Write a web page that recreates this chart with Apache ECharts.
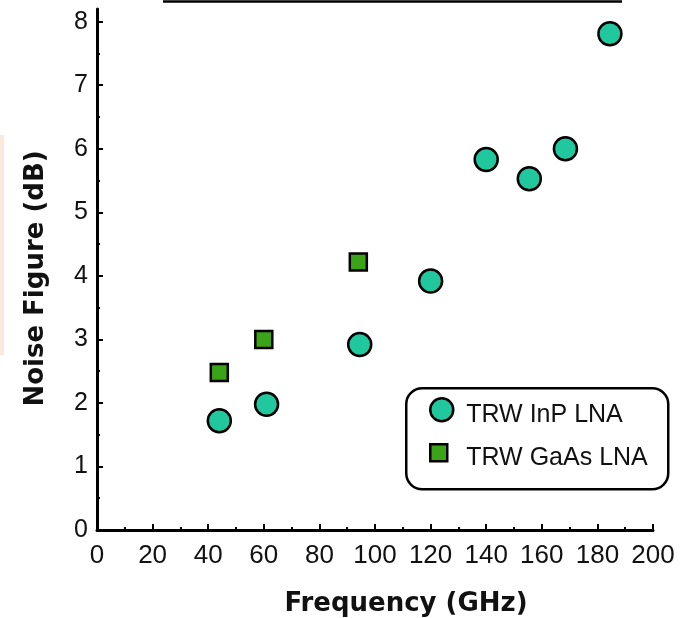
<!DOCTYPE html>
<html>
<head>
<meta charset="utf-8">
<title>Noise Figure vs Frequency</title>
<script src="https://cdn.jsdelivr.net/npm/echarts@6/dist/echarts.min.js"></script>
<style>
  html, body { margin: 0; padding: 0; background: #ffffff; }
  #chart { width: 690px; height: 618px; }
</style>
</head>
<body>
<div id="chart"></div>
<script>
// Measured noise figure of LNAs by frequency
const inpFreq = [44, 61, 94.5, 120, 140, 155.5, 168.5, 184.5];
const inpNF   = [1.72, 1.98, 2.92, 3.92, 5.83, 5.53, 6.0, 7.81];
const gaasFreq = [44, 60, 94];
const gaasNF   = [2.48, 3.0, 4.22];

const seriesNames = ['TRW InP LNA', 'TRW GaAs LNA'];
const xTickValues = [0, 20, 40, 60, 80, 100, 120, 140, 160, 180, 200];
const yTickValues = [0, 1, 2, 3, 4, 5, 6, 7, 8];
const yMinorValues = [0.5, 1.5, 2.5, 3.5, 4.5, 5.5, 6.5, 7.5];

const FONT = "'Liberation Sans', Arial, Helvetica, sans-serif";
const NAME_FONT = "'DejaVu Sans', 'Liberation Sans', Arial, sans-serif";

const chart = echarts.init(document.getElementById('chart'), null, { renderer: 'canvas' });

const pair = (xs, ys) => xs.map((x, i) => [x, ys[i]]);

// legend label sits a little below the centre of its marker
const legendText = (left) => ({
  fontFamily: FONT, fontSize: 25, color: '#111',
  rich: { t: { fontFamily: FONT, fontSize: 25, color: '#111', padding: [10, 0, 0, left] } }
});

const option = {
  backgroundColor: '#ffffff',
  animation: false,
  grid: { left: 97, right: 37, top: 9, bottom: 88, containLabel: false, outerBoundsMode: 'none' },
  xAxis: {
    type: 'value',
    min: 0, max: 200, interval: 20,
    name: 'Frequency (GHz)',
    nameLocation: 'middle',
    nameGap: 61,
    nameTextStyle: { fontFamily: NAME_FONT, fontWeight: 'bold', fontSize: 26, color: '#111', padding: [0, 0, 0, 62] },
    axisLine: { show: true, lineStyle: { color: '#000', width: 3 } },
    axisTick: { show: true, inside: true, length: 6, lineStyle: { color: '#000', width: 2 }, customValues: xTickValues },
    minorTick: { show: true, splitNumber: 2, length: 3, lineStyle: { color: '#000', width: 2 } },
    axisLabel: { customValues: xTickValues, margin: 13, fontFamily: FONT, fontSize: 26, color: '#111' },
    splitLine: { show: false },
    minorSplitLine: { show: false }
  },
  yAxis: [{
    type: 'value',
    min: 0, max: 8.2, interval: 1,
    name: 'Noise Figure (dB)',
    nameLocation: 'middle',
    nameGap: 48,
    nameRotate: 90,
    nameTextStyle: { fontFamily: NAME_FONT, fontWeight: 'bold', fontSize: 26, color: '#111', padding: [0, 18, 0, 0] },
    axisLine: { show: true, lineStyle: { color: '#000', width: 3 } },
    axisTick: { show: true, inside: true, length: 6, lineStyle: { color: '#000', width: 2 }, customValues: yTickValues },
    axisLabel: { customValues: yTickValues, margin: 9, fontFamily: FONT, fontSize: 25, color: '#111' },
    splitLine: { show: false }
  }, {
    // half-unit minor ticks on the noise figure axis
    type: 'value',
    position: 'left',
    min: 0, max: 8.2, interval: 1,
    axisLine: { show: false },
    axisTick: { show: true, inside: true, length: 3, lineStyle: { color: '#000', width: 2 }, customValues: yMinorValues },
    axisLabel: { show: false },
    splitLine: { show: false }
  }],
  legend: [{
    data: [seriesNames[0]],
    orient: 'vertical',
    left: 429, top: 397, padding: 0,
    itemWidth: 23, itemHeight: 23,
    itemStyle: { borderColor: '#000', borderWidth: 2.5 },
    formatter: '{t|{name}}',
    textStyle: legendText(8)
  }, {
    data: [seriesNames[1]],
    orient: 'vertical',
    left: 429, top: 443, padding: 0,
    itemWidth: 17, itemHeight: 17,
    itemStyle: { borderColor: '#000', borderWidth: 2.5 },
    formatter: '{t|{name}}',
    textStyle: legendText(14)
  }],
  series: [{
    name: seriesNames[0],
    type: 'scatter',
    symbol: 'circle',
    symbolSize: 23,
    itemStyle: { color: '#22c89d', borderColor: '#000', borderWidth: 2.5, opacity: 1 },
    data: pair(inpFreq, inpNF),
    z: 3
  }, {
    name: seriesNames[1],
    type: 'scatter',
    symbol: 'rect',
    symbolSize: 17,
    itemStyle: { color: '#3aa317', borderColor: '#000', borderWidth: 2.5, opacity: 1 },
    data: pair(gaasFreq, gaasNF),
    z: 3
  }],
  graphic: [
    // rounded frame around the legend
    { type: 'rect', left: 405, top: 387, z: 1, silent: true,
      shape: { width: 262, height: 101, r: 16 },
      style: { fill: '#ffffff', stroke: '#000', lineWidth: 2.5 } },
    // rule along the top edge
    { type: 'line', silent: true,
      shape: { x1: 163, y1: 1.5, x2: 622, y2: 1.5 },
      style: { stroke: '#000', lineWidth: 2.5 } },
    // faint tinted strip at the left edge
    { type: 'rect', left: 0, top: 135, silent: true,
      shape: { width: 4, height: 220 },
      style: { fill: '#fbeadb' } }
  ]
};

chart.setOption(option);
</script>
</body>
</html>
